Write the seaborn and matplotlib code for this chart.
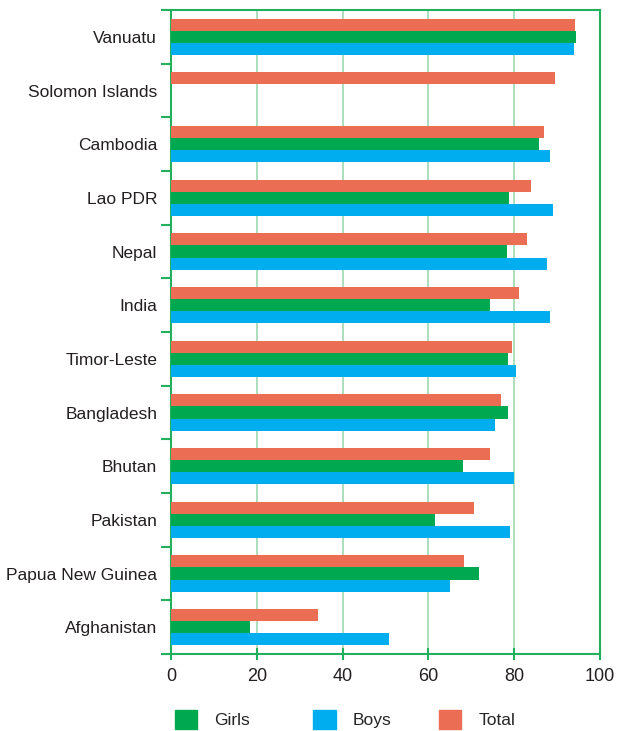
import numpy as np
import pandas as pd
import matplotlib.pyplot as plt
import matplotlib.patches as mpatches
import seaborn as sns

countries = ["Vanuatu", "Solomon Islands", "Cambodia", "Lao PDR", "Nepal", "India",
             "Timor-Leste", "Bangladesh", "Bhutan", "Pakistan", "Papua New Guinea", "Afghanistan"]
girls = [94.5, np.nan, 85.8, 78.8, 78.4, 74.4, 78.6, 78.6, 68.1, 61.6, 71.8, 18.4]
boys = [94.0, np.nan, 88.4, 89.1, 87.7, 88.4, 80.5, 75.6, 80.0, 79.1, 65.1, 50.8]
total = [94.2, 89.6, 87.0, 84.0, 83.0, 81.2, 79.5, 77.0, 74.4, 70.7, 68.3, 34.2]

series = {"Total": total, "Girls": girls, "Boys": boys}
colors = {"Girls": "#00A94F", "Boys": "#00AEEF", "Total": "#EB6E54"}
spine_col = "#22B05C"
grid_col = "#A6DCB6"

rows = []
for name, vals in series.items():
    for c, v in zip(countries, vals):
        rows.append({"country": c, "group": name, "value": v})
df = pd.DataFrame(rows)

sns.set_style("white")
plt.rcParams['font.family'] = ['Liberation Sans', 'DejaVu Sans']

fig = plt.figure(figsize=(6.26, 7.31), dpi=100)
ax = fig.add_axes([0.2732, 0.1053, 0.6853, 0.881])

sns.barplot(data=df, y="country", x="value", hue="group", order=countries,
            hue_order=["Total", "Girls", "Boys"], palette=colors, orient="h",
            width=0.68, saturation=1, linewidth=0, ax=ax, legend=False, zorder=3)

ax.set_xlim(0, 100)
ax.set_ylim(len(countries) - 0.5, -0.5)
ax.set_xticks([0, 20, 40, 60, 80, 100])
ax.set_xlabel("")
ax.set_ylabel("")
ax.xaxis.grid(True, color=grid_col, linewidth=1.3, zorder=0)
ax.set_axisbelow(True)

for s in ax.spines.values():
    s.set_visible(True)
    s.set_color(spine_col)
    s.set_linewidth(1.5)

ax.set_yticks(np.arange(len(countries)))
ax.set_yticklabels(countries)
ax.set_yticks(np.arange(-0.5, len(countries)), minor=True)
ax.tick_params(axis="y", which="major", left=True, length=0, pad=10, labelsize=12.5, labelcolor="#231F20")
ax.tick_params(axis="y", which="minor", left=True, length=7, width=1.5, color=spine_col, direction="out")
ax.tick_params(axis="x", bottom=True, length=8, width=1.5, color=spine_col, direction="inout",
               labelsize=13, labelcolor="#231F20", pad=6)

# legend entries placed one by one to match the reference spacing
legend_x = {"Girls": 0.254, "Boys": 0.475, "Total": 0.676}
for k, x0 in legend_x.items():
    fig.legend(handles=[mpatches.Patch(color=colors[k], label=k)], loc="lower left",
               bbox_to_anchor=(x0, -0.018), frameon=False, fontsize=12.5,
               handlelength=1.3, handleheight=1.3, handletextpad=1.0,
               borderpad=0.4, borderaxespad=0.5)

fig.savefig("out.png", dpi=100)
